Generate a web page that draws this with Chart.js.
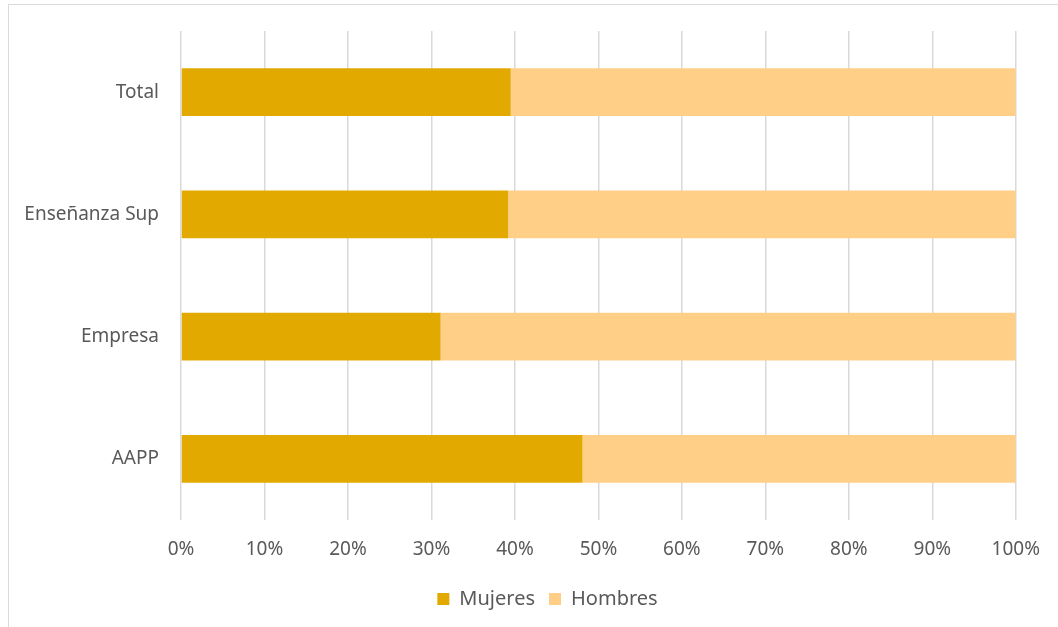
<!DOCTYPE html>
<html>
<head>
<meta charset="utf-8">
<script src="https://cdn.jsdelivr.net/npm/chart.js@4.4.1/dist/chart.umd.min.js"></script>
<style>
  html, body { margin: 0; padding: 0; background: #fff; }
  #frame { position: absolute; left: 8px; top: 4px; width: 1060px; height: 640px; border: 1.5px solid #d9d9d9; box-sizing: border-box; }
  #wrap { position: absolute; left: 0; top: 0; width: 1058px; height: 627px; }
</style>
</head>
<body>
<div id="frame"></div>
<div id="wrap"><canvas id="chart"></canvas></div>
<script>
const categories = ['Total', 'Enseñanza Sup', 'Empresa', 'AAPP'];
const mujeres = [39.5, 39.2, 31.1, 48.1];
const hombres = [60.5, 60.8, 68.9, 51.9];
const xTicks = [0, 10, 20, 30, 40, 50, 60, 70, 80, 90, 100];

const textColor = '#595959';
const font = { family: 'Noto Sans, sans-serif', size: 19 };

// push the legend a bit to the right, like the original
const legendShift = {
    id: 'legendShift',
    afterUpdate(chart) {
        if (chart.legend) {
            chart.legend.left += 30;
            chart.legend.right += 30;
        }
    }
};

new Chart(document.getElementById('chart'), {
    type: 'bar',
    data: {
        labels: categories,
        datasets: [
            { label: 'Mujeres', data: mujeres, backgroundColor: '#E2AA00', barPercentage: 0.39, categoryPercentage: 1 },
            { label: 'Hombres', data: hombres, backgroundColor: '#FFCF88', barPercentage: 0.39, categoryPercentage: 1 }
        ]
    },
    options: {
        indexAxis: 'y',
        responsive: true,
        maintainAspectRatio: false,
        animation: false,
        layout: { padding: { left: 8, top: 31, right: 31, bottom: 8 } },
        scales: {
            x: {
                stacked: true,
                min: 0,
                max: 100,
                afterBuildTicks: scale => { scale.ticks = xTicks.map(v => ({ value: v })); },
                afterFit: scale => { scale.height = 55; },
                grid: { color: '#d9d9d9', lineWidth: 1.5, drawTicks: false },
                border: { display: false },
                ticks: { color: textColor, font: font, padding: 18, callback: v => v + '%' }
            },
            y: {
                stacked: true,
                afterFit: scale => { scale.width = 173; },
                grid: { display: false },
                border: { display: false },
                ticks: { color: textColor, font: font, padding: 14 }
            }
        },
        plugins: {
            tooltip: { enabled: false },
            legend: {
                position: 'bottom',
                labels: { color: textColor, font: { family: 'Noto Sans, sans-serif', size: 20 }, boxWidth: 12, boxHeight: 12, padding: 14 }
            }
        }
    },
    plugins: [legendShift]
});
</script>
</body>
</html>
